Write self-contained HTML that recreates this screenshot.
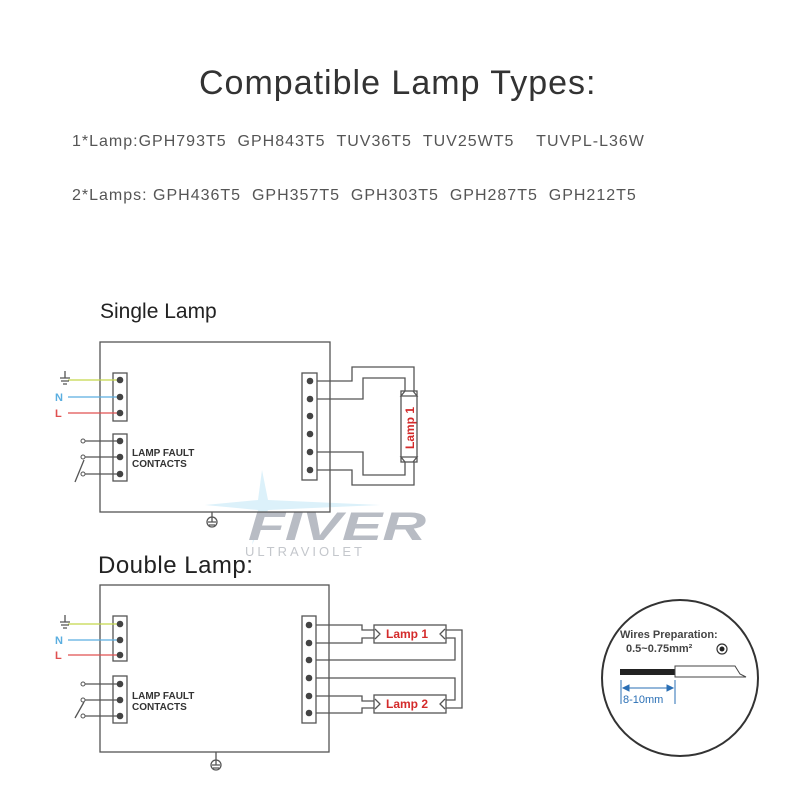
<!DOCTYPE html>
<html><head><style>
body{margin:0;background:#fff;width:800px;height:800px;overflow:hidden;position:relative;font-family:"Liberation Sans",sans-serif}
.t{position:absolute;white-space:nowrap}
</style></head><body>
<div class="t" style="left:199px;top:64px;font-size:34px;color:#333;letter-spacing:1px">Compatible Lamp Types:</div>
<div class="t" style="left:72px;top:133px;font-size:16px;color:#555;letter-spacing:1px">1*Lamp:GPH793T5&nbsp;&nbsp;GPH843T5&nbsp;&nbsp;TUV36T5&nbsp;&nbsp;TUV25WT5&nbsp;&nbsp;&nbsp;&nbsp;TUVPL-L36W</div>
<div class="t" style="left:72px;top:187px;font-size:16px;color:#555;letter-spacing:1px">2*Lamps: GPH436T5&nbsp;&nbsp;GPH357T5&nbsp;&nbsp;GPH303T5&nbsp;&nbsp;GPH287T5&nbsp;&nbsp;GPH212T5</div>
<div class="t" style="left:100px;top:300px;font-size:21px;color:#222">Single Lamp</div>
<div class="t" style="left:98px;top:552px;font-size:24px;color:#222;letter-spacing:0.5px">Double Lamp:</div>
<svg width="800" height="800" style="position:absolute;left:0;top:0" font-family="Liberation Sans,sans-serif">
<g opacity="0.55">
<path d="M262 470 L268 500 L380 505 L268 510 L252 545 L258 510 L205 505 L258 500 Z" fill="#bfe6f5"/>
</g>
<text x="248" y="540" font-size="40" font-weight="bold" font-style="italic" fill="#b8bcc4" textLength="178" lengthAdjust="spacingAndGlyphs">FIVER</text>
<text x="245" y="556" font-size="13" fill="#c4c7cc" letter-spacing="3">ULTRAVIOLET</text>
<g stroke="#555" stroke-width="1.3" fill="none">
<rect x="100" y="342" width="230" height="170"/>
<rect x="113" y="373" width="14" height="48"/>
<rect x="113" y="434" width="14" height="47"/>
<rect x="302" y="373" width="15" height="107"/>
<rect x="401" y="391" width="16" height="71"/>
<path d="M317 381H352V367H414V391M317 399H363V378H405V391M317 452H363V475H405V462M317 470H352V485H414V462"/>
<path d="M405 391l-4 5h16l-4-5M405 462l-4-5h16l-4 5"/>
<path d="M83 441H120M83 457H120M83 474H120M75 482L84 460"/>
<circle cx="212" cy="522" r="5"/><path d="M212 512v10M208 522h8M209 525h6"/>
<rect x="100" y="585" width="229" height="167"/>
<rect x="113" y="616" width="14" height="45"/>
<rect x="113" y="676" width="14" height="47"/>
<rect x="302" y="616" width="14" height="107"/>
<rect x="374" y="625" width="72" height="18"/>
<rect x="374" y="695" width="72" height="18"/>
<path d="M316 625H362V630H374M316 643H362V638H374M316 660H455V638H446M316 678H455V700H446M316 696H362V701H374M316 713H362V708H374M446 630H462V708H446"/>
<path d="M375 629l5 5-5 5M375 699l5 5-5 5M445 629l-5 5 5 5M445 699l-5 5 5 5"/>
<path d="M83 684H120M83 700H120M83 716H120M75 718L84 702"/>
<circle cx="216" cy="765" r="5"/><path d="M216 752v13M212 765h8M213 768h6"/>
<circle cx="680" cy="678" r="78" stroke="#333" stroke-width="2"/>
</g>
<g stroke-width="1.3">
<path d="M68 380H120" stroke="#c4d64a"/><path d="M68 397H120" stroke="#5aaee0"/><path d="M68 413H120" stroke="#e05050"/>
<path d="M68 624H120" stroke="#c4d64a"/><path d="M68 640H120" stroke="#5aaee0"/><path d="M68 655H120" stroke="#e05050"/>
<path d="M60 378h10M65 378v-7M61 381h8M63 384h4M60 622h10M65 622v-7M61 625h8M63 628h4" stroke="#555"/>
</g>
<g fill="#444">
<circle cx="120" cy="380" r="3.3"/><circle cx="120" cy="397" r="3.3"/><circle cx="120" cy="413" r="3.3"/>
<circle cx="120" cy="441" r="3.3"/><circle cx="120" cy="457" r="3.3"/><circle cx="120" cy="474" r="3.3"/>
<circle cx="310" cy="381" r="3.3"/><circle cx="310" cy="399" r="3.3"/><circle cx="310" cy="416" r="3.3"/><circle cx="310" cy="434" r="3.3"/><circle cx="310" cy="452" r="3.3"/><circle cx="310" cy="470" r="3.3"/>
<circle cx="120" cy="624" r="3.3"/><circle cx="120" cy="640" r="3.3"/><circle cx="120" cy="655" r="3.3"/>
<circle cx="120" cy="684" r="3.3"/><circle cx="120" cy="700" r="3.3"/><circle cx="120" cy="716" r="3.3"/>
<circle cx="309" cy="625" r="3.3"/><circle cx="309" cy="643" r="3.3"/><circle cx="309" cy="660" r="3.3"/><circle cx="309" cy="678" r="3.3"/><circle cx="309" cy="696" r="3.3"/><circle cx="309" cy="713" r="3.3"/>
</g>
<g fill="#fff" stroke="#555"><circle cx="83" cy="441" r="2"/><circle cx="83" cy="457" r="2"/><circle cx="83" cy="474" r="2"/><circle cx="83" cy="684" r="2"/><circle cx="83" cy="700" r="2"/><circle cx="83" cy="716" r="2"/></g>
<g font-size="10" font-weight="bold" fill="#333">
<text x="132" y="456">LAMP FAULT</text><text x="132" y="467">CONTACTS</text>
<text x="132" y="699">LAMP FAULT</text><text x="132" y="710">CONTACTS</text>
</g>
<g font-size="11" font-weight="bold">
<text x="55" y="401" fill="#5aaee0">N</text><text x="55" y="417" fill="#e05050">L</text>
<text x="55" y="644" fill="#5aaee0">N</text><text x="55" y="659" fill="#e05050">L</text>
</g>
<text transform="translate(414,449) rotate(-90)" font-size="12" font-weight="bold" fill="#d42a2a">Lamp 1</text>
<text x="386" y="638" font-size="12" font-weight="bold" fill="#d42a2a">Lamp 1</text>
<text x="386" y="708" font-size="12" font-weight="bold" fill="#d42a2a">Lamp 2</text>
<text x="620" y="638" font-size="11" font-weight="bold" fill="#444">Wires Preparation:</text>
<text x="626" y="652" font-size="11" font-weight="bold" fill="#444">0.5~0.75mm²</text>
<circle cx="722" cy="649" r="5" fill="none" stroke="#333" stroke-width="1.2"/><circle cx="722" cy="649" r="2.5" fill="#222"/>
<rect x="620" y="669" width="55" height="6" fill="#222"/>
<path d="M675 666H735L740 674L746 677H675Z" fill="#fff" stroke="#444"/>
<path d="M621 680v24M675 680v24" stroke="#2a6fb5" stroke-width="1"/>
<path d="M623 688H673M623 688l6-3v6zM673 688l-6-3v6z" stroke="#2a6fb5" fill="#2a6fb5"/>
<text x="623" y="703" font-size="11" fill="#2a6fb5">8-10mm</text>
</svg>
</body></html>
